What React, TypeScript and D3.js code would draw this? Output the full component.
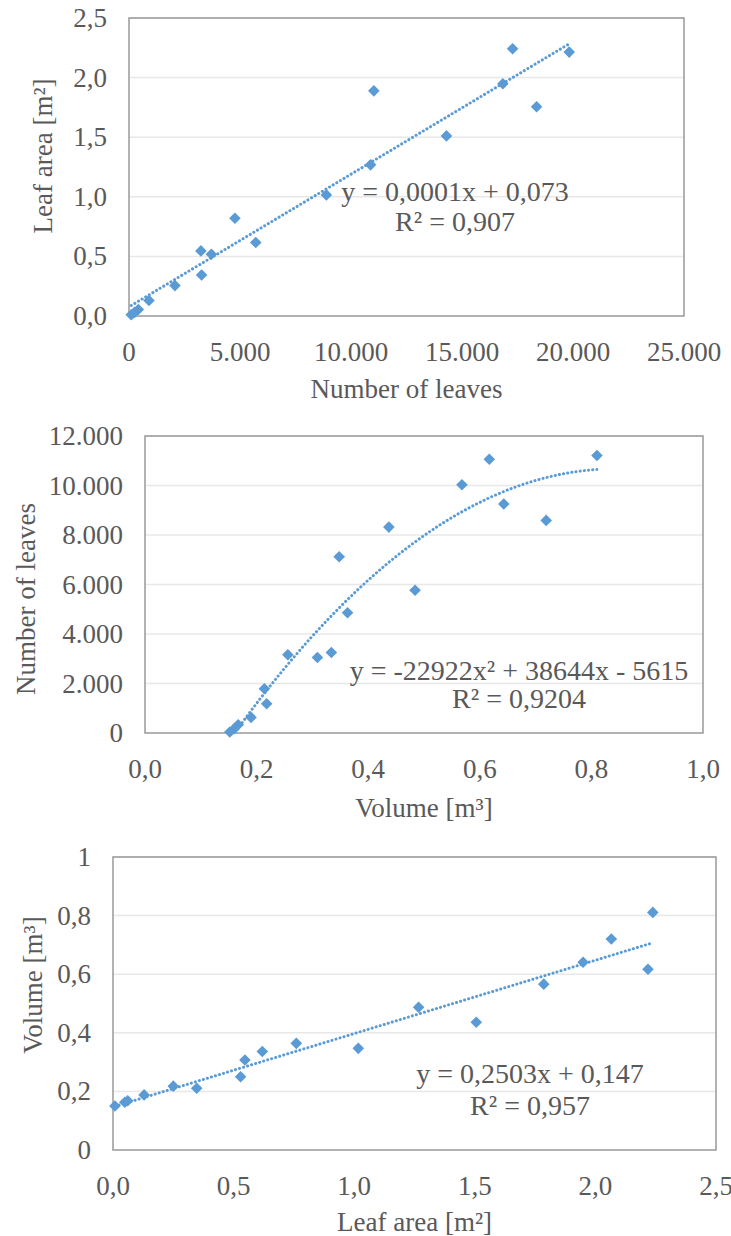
import React from "react";
import * as d3 from "d3";

// ---------- DATA ----------
// Chart 1: Number of leaves vs Leaf area
const leavesCount1 = [100, 250, 420, 900, 2070, 3240, 3270, 3710, 4770, 5710, 8890, 10880, 11030, 14300, 16840, 17280, 18360, 19830];
const leafArea1 = [0.01, 0.03, 0.055, 0.13, 0.255, 0.546, 0.344, 0.518, 0.82, 0.616, 1.016, 1.268, 1.889, 1.511, 1.948, 2.242, 1.755, 2.214];
const xTicks1 = [0, 5000, 10000, 15000, 20000, 25000];
const xLabels1 = ["0", "5.000", "10.000", "15.000", "20.000", "25.000"];
const yTicks1 = [0, 0.5, 1.0, 1.5, 2.0, 2.5];
const yLabels1 = ["0,0", "0,5", "1,0", "1,5", "2,0", "2,5"];
const eq1 = ["y = 0,0001x + 0,073", "R\u00B2 = 0,907"];

// Chart 2: Volume vs Number of leaves
const volume2 = [0.152, 0.160, 0.167, 0.190, 0.214, 0.218, 0.256, 0.309, 0.334, 0.348, 0.363, 0.437, 0.484, 0.568, 0.617, 0.643, 0.719, 0.810];
const leavesCount2 = [40, 175, 335, 630, 1790, 1180, 3160, 3050, 3250, 7120, 4860, 8320, 5770, 10030, 11060, 9250, 8590, 11210];
const xTicks2 = [0, 0.2, 0.4, 0.6, 0.8, 1.0];
const xLabels2 = ["0,0", "0,2", "0,4", "0,6", "0,8", "1,0"];
const yTicks2 = [0, 2000, 4000, 6000, 8000, 10000, 12000];
const yLabels2 = ["0", "2.000", "4.000", "6.000", "8.000", "10.000", "12.000"];
const quadCoef2 = [-22922, 38644, -5615];
const eq2 = ["y = -22922x\u00B2 + 38644x - 5615", "R\u00B2 = 0,9204"];

// Chart 3: Leaf area vs Volume
const leafArea3 = [0.008, 0.049, 0.061, 0.129, 0.250, 0.347, 0.529, 0.547, 0.619, 0.760, 1.017, 1.267, 1.506, 1.786, 1.949, 2.066, 2.218, 2.238];
const volume3 = [0.150, 0.163, 0.168, 0.188, 0.218, 0.211, 0.250, 0.307, 0.336, 0.364, 0.347, 0.487, 0.436, 0.566, 0.641, 0.720, 0.617, 0.811];
const xTicks3 = [0, 0.5, 1.0, 1.5, 2.0, 2.5];
const xLabels3 = ["0,0", "0,5", "1,0", "1,5", "2,0", "2,5"];
const yTicks3 = [0, 0.2, 0.4, 0.6, 0.8, 1];
const yLabels3 = ["0", "0,2", "0,4", "0,6", "0,8", "1"];
const linCoef3 = [0.2503, 0.147];
const eq3 = ["y = 0,2503x + 0,147", "R\u00B2 = 0,957"];

// ---------- STYLE ----------
const FONT = "'Liberation Serif', 'Times New Roman', serif";
const TEXT = "#595959";
const BLUE = "#5B9BD5";
const GRID = "#e8e8e8";
const BORDER = "#999999";

function linearFit(xs: number[], ys: number[]) {
  const mx = d3.mean(xs)!;
  const my = d3.mean(ys)!;
  let num = 0, den = 0;
  xs.forEach((x, i) => { num += (x - mx) * (ys[i] - my); den += (x - mx) ** 2; });
  const b = num / den;
  const a = my - b * mx;
  return (x: number) => a + b * x;
}

type PanelProps = {
  id: string;
  box: { left: number; right: number; top: number; bottom: number };
  xDomain: [number, number];
  yDomain: [number, number];
  xTicks: number[]; xLabels: string[];
  yTicks: number[]; yLabels: string[];
  xs: number[]; ys: number[];
  trend: (x: number) => number;
  eq: string[];
  eqX: number; eqY: number[];
  xTitle: string; xTitleY: number;
  yTitle: string; yTitleX: number; yTitleY: number;
  tickSize: number; eqSize: number;
};

function Panel(p: PanelProps) {
  const x = d3.scaleLinear().domain(p.xDomain).range([p.box.left, p.box.right]);
  const y = d3.scaleLinear().domain(p.yDomain).range([p.box.bottom, p.box.top]);
  const [x0, x1] = d3.extent(p.xs) as [number, number];
  const samples = d3.range(0, 101).map((i) => x0 + ((x1 - x0) * i) / 100);
  const line = d3.line<number>().x((v) => x(v)).y((v) => y(p.trend(v)))(samples) || "";
  const r = 5.8;
  const w = p.box.right - p.box.left;
  const h = p.box.bottom - p.box.top;
  return (
    <g>
      <defs>
        <clipPath id={p.id + "t"}>
          <rect x={p.box.left} y={p.box.top} width={w} height={h} />
        </clipPath>
      </defs>
      {p.yTicks.slice(1).map((t) => (
        <line key={"g" + t} x1={p.box.left} x2={p.box.right} y1={y(t)} y2={y(t)} stroke={GRID} strokeWidth={1.5} />
      ))}
      <rect x={p.box.left} y={p.box.top} width={w} height={h} fill="none" stroke={BORDER} strokeWidth={1.5} />
      {p.yTicks.map((t, i) => (
        <text key={"yl" + t} x={p.box.left - 22} y={y(t) + 9} textAnchor="end" fontFamily={FONT} fontSize={p.tickSize} fill={TEXT}>
          {p.yLabels[i]}
        </text>
      ))}
      {p.xTicks.map((t, i) => (
        <text key={"xl" + t} x={x(t)} y={p.box.bottom + 45} textAnchor="middle" fontFamily={FONT} fontSize={p.tickSize} fill={TEXT}>
          {p.xLabels[i]}
        </text>
      ))}
      <text x={(p.box.left + p.box.right) / 2} y={p.xTitleY} textAnchor="middle" fontFamily={FONT} fontSize={p.tickSize} fill={TEXT}>
        {p.xTitle}
      </text>
      <text transform={`translate(${p.yTitleX},${p.yTitleY}) rotate(-90)`} textAnchor="middle" fontFamily={FONT} fontSize={p.tickSize} fill={TEXT}>
        {p.yTitle}
      </text>
      {p.xs.map((v, i) => {
        const cx = x(v), cy = y(p.ys[i]);
        return (
          <path key={"m" + i} d={`M${cx},${cy - r}L${cx + r},${cy}L${cx},${cy + r}L${cx - r},${cy}Z`} fill={BLUE} />
        );
      })}
      <g clipPath={`url(#${p.id}t)`}>
        <path d={line} fill="none" stroke={BLUE} strokeWidth={3} strokeDasharray="0.1 4.1" strokeLinecap="round" />
      </g>
      {p.eq.map((s, i) => (
        <text key={"eq" + i} x={p.eqX} y={p.eqY[i]} textAnchor="middle" fontFamily={FONT} fontSize={p.eqSize} fill={TEXT}>
          {s}
        </text>
      ))}
    </g>
  );
}

export default function App() {
  const trend1 = linearFit(leavesCount1, leafArea1);
  const trend2 = (v: number) => quadCoef2[0] * v * v + quadCoef2[1] * v + quadCoef2[2];
  const trend3 = (v: number) => linCoef3[0] * v + linCoef3[1];
  return (
    <svg width={731} height={1236} style={{ position: "absolute", left: 0, top: 0, background: "#fff" }}>
      <rect width={731} height={1236} fill="#fff" />
      <Panel
        id="c1"
        box={{ left: 129, right: 684, top: 18, bottom: 316 }}
        xDomain={[0, 25000]} yDomain={[0, 2.5]}
        xTicks={xTicks1} xLabels={xLabels1} yTicks={yTicks1} yLabels={yLabels1}
        xs={leavesCount1} ys={leafArea1} trend={trend1}
        eq={eq1} eqX={455} eqY={[201, 231]}
        xTitle="Number of leaves" xTitleY={398}
        yTitle="Leaf area [m²]" yTitleX={52} yTitleY={156}
        tickSize={27} eqSize={28}
      />
      <Panel
        id="c2"
        box={{ left: 145, right: 703, top: 436, bottom: 733 }}
        xDomain={[0, 1]} yDomain={[0, 12000]}
        xTicks={xTicks2} xLabels={xLabels2} yTicks={yTicks2} yLabels={yLabels2}
        xs={volume2} ys={leavesCount2} trend={trend2}
        eq={eq2} eqX={519} eqY={[680, 708]}
        xTitle="Volume [m³]" xTitleY={817}
        yTitle="Number of leaves" yTitleX={35} yTitleY={599}
        tickSize={27} eqSize={28}
      />
      <Panel
        id="c3"
        box={{ left: 113, right: 716, top: 857, bottom: 1150 }}
        xDomain={[0, 2.5]} yDomain={[0, 1]}
        xTicks={xTicks3} xLabels={xLabels3} yTicks={yTicks3} yLabels={yLabels3}
        xs={leafArea3} ys={volume3} trend={trend3}
        eq={eq3} eqX={530} eqY={[1083, 1115]}
        xTitle="Leaf area [m²]" xTitleY={1231}
        yTitle="Volume [m³]" yTitleX={42} yTitleY={985}
        tickSize={27} eqSize={28}
      />
    </svg>
  );
}
